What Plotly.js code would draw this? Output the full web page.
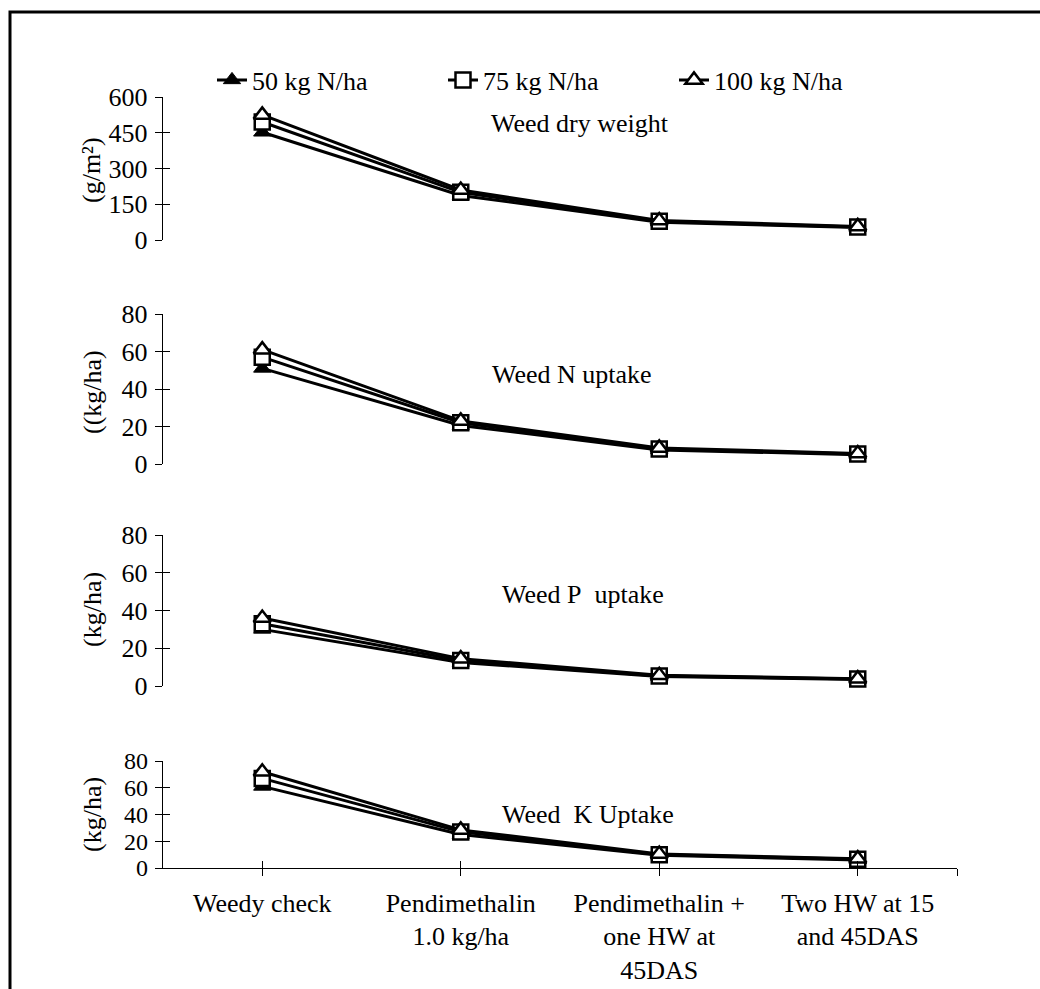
<!DOCTYPE html>
<html>
<head>
<meta charset="utf-8">
<script src="https://cdn.plot.ly/plotly-3.0.1.min.js"></script>
<style>
  html, body { margin: 0; padding: 0; background: #fff; }
  #chart { width: 1040px; height: 989px; }
</style>
</head>
<body>
<div id="chart"></div>
<script>
// ---- data ----
const categories = [
  "Weedy check",
  "Pendimethalin<br>1.0 kg/ha",
  "Pendimethalin +<br>one HW at<br>45DAS",
  "Two HW at 15<br>and 45DAS"
];
const seriesNames = ["50 kg N/ha", "75 kg N/ha", "100 kg N/ha"];

// Weed dry weight (g/m2)
const dryWeight50  = [452, 187, 75, 52];
const dryWeight75  = [495, 200, 79, 55];
const dryWeight100 = [525, 210, 82, 57];

// Weed N uptake (kg/ha)
const nUptake50  = [51, 20.5, 7.5, 5.0];
const nUptake75  = [57, 22.0, 8.0, 5.3];
const nUptake100 = [61, 23.0, 8.6, 5.6];

// Weed P uptake (kg/ha)
const pUptake50  = [30, 12.5, 5.0, 3.5];
const pUptake75  = [33, 13.5, 5.3, 3.7];
const pUptake100 = [36, 14.5, 5.7, 3.9];

// Weed K uptake (kg/ha)
const kUptake50  = [61, 25.0, 9.5, 6.0];
const kUptake75  = [67, 27.0, 10.0, 6.5];
const kUptake100 = [72, 28.5, 10.5, 7.0];

const panelTitles = ["Weed dry weight", "Weed N uptake", "Weed P\u00a0 uptake", "Weed\u00a0 K Uptake"];
const yTitles = ["(g/m\u00b2)", "((kg/ha)", "(kg/ha)", "(kg/ha)"];
const tickLists = [[0,150,300,450,600],[0,20,40,60,80],[0,20,40,60,80],[0,20,40,60,80]];

// ---- styling ----
const FONT = '"Liberation Serif", "Times New Roman", Times, serif';
const FS = 26;
const W = 1040, H = 989;
const px2x = p => p / W;
const px2y = p => 1 - p / H;

const markerStyles = [
  {symbol: "triangle-up", size: 15, color: "#000", line: {color: "#000", width: 1}},
  {symbol: "square", size: 15, color: "#fff", line: {color: "#000", width: 2.5}},
  {symbol: "triangle-up", size: 15, color: "#fff", line: {color: "#000", width: 2.5}}
];

const panels = [
  [dryWeight50, dryWeight75, dryWeight100],
  [nUptake50, nUptake75, nUptake100],
  [pUptake50, pUptake75, pUptake100],
  [kUptake50, kUptake75, kUptake100]
];
// panel pixel extents (top of max tick, zero line)
const panelPx = [[97, 240], [314, 464], [535, 686], [761, 868]];
const titlePx = [[580, 124], [572, 374], [583, 594], [588, 814]];
const yTitlePx = [170, 392, 610, 815];
const yTickFS = [26, 26, 26, 24];

const traces = [];
panels.forEach((series, pi) => {
  series.forEach((vals, si) => {
    traces.push({
      type: "scatter",
      mode: "lines+markers",
      x: categories,
      y: vals,
      xaxis: "x",
      yaxis: pi === 0 ? "y" : "y" + (pi + 1),
      name: seriesNames[si],
      legendgroup: seriesNames[si],
      showlegend: pi === 0,
      line: {color: "#000", width: 3},
      marker: markerStyles[si],
      cliponaxis: false,
      hoverinfo: "skip"
    });
  });
});

const layout = {
  width: W, height: H,
  margin: {l: 0, r: 0, t: 0, b: 0},
  paper_bgcolor: "#fff", plot_bgcolor: "rgba(0,0,0,0)",
  font: {family: FONT, size: FS, color: "#000"},
  showlegend: true,
  legend: {
    orientation: "h",
    x: px2x(212), xanchor: "left",
    y: px2y(80), yanchor: "middle",
    font: {family: FONT, size: FS, color: "#000"},
    entrywidth: 186, entrywidthmode: "pixels",
    bgcolor: "rgba(0,0,0,0)",
    traceorder: "normal"
  },
  xaxis: {
    type: "category",
    domain: [px2x(163), px2x(957)],
    range: [-0.5, 3.5],
    anchor: "y4",
    showline: true, linecolor: "#000", linewidth: 1.3,
    ticks: "outside", ticklen: 7, tickwidth: 1, tickcolor: "#000",
    tickmode: "array",
    tickvals: [0, 1, 2, 3, 3.5],
    ticktext: categories.concat([""]),
    ticklabelstandoff: 4,
    tickfont: {family: FONT, size: FS, color: "#000"},
    showgrid: false, zeroline: false, fixedrange: true
  },
  xaxis2: {
    type: "category", overlaying: "x", anchor: "y4",
    domain: [px2x(163), px2x(957)],
    range: [-0.5, 3.5],
    showline: false, ticks: "inside", ticklen: 7, tickwidth: 1, tickcolor: "#000",
    tickmode: "array", tickvals: [0, 1, 2, 3, 3.5], showticklabels: false,
    showgrid: false, zeroline: false, fixedrange: true
  },
  annotations: [],
  shapes: [{
    type: "rect", xref: "paper", yref: "paper",
    x0: px2x(10), x1: 1.05, y0: -0.05, y1: px2y(12),
    line: {color: "#000", width: 3}, fillcolor: "rgba(0,0,0,0)", layer: "below"
  }]
};

panelPx.forEach((pp, i) => {
  const key = i === 0 ? "yaxis" : "yaxis" + (i + 1);
  const ticks = tickLists[i];
  const dom = [px2y(pp[1]), px2y(pp[0])];
  layout[key] = {
    domain: dom,
    range: [ticks[0], ticks[ticks.length - 1]],
    anchor: "x",
    showline: true, linecolor: "#000", linewidth: 1.3,
    ticks: "outside", ticklen: 7, tickwidth: 1, tickcolor: "#000",
    tickmode: "array", tickvals: ticks,
    ticklabelstandoff: 2,
    tickfont: {family: FONT, size: yTickFS[i], color: "#000"},
    showgrid: false, zeroline: false, fixedrange: true
  };
  // overlay axis for the inner half of crossing ticks
  layout["yaxis" + (i + 5)] = {
    domain: dom,
    overlaying: i === 0 ? "y" : "y" + (i + 1),
    range: [ticks[0], ticks[ticks.length - 1]],
    anchor: "x",
    showline: false,
    ticks: "inside", ticklen: 7, tickwidth: 1, tickcolor: "#000",
    tickmode: "array", tickvals: ticks, showticklabels: false,
    showgrid: false, zeroline: false, fixedrange: true
  };
  // panel title
  layout.annotations.push({
    text: panelTitles[i], xref: "paper", yref: "paper",
    x: px2x(titlePx[i][0]), y: px2y(titlePx[i][1]),
    xanchor: "center", yanchor: "middle", showarrow: false,
    font: {family: FONT, size: FS, color: "#000"}
  });
  // y-axis title (unit)
  layout.annotations.push({
    text: yTitles[i], xref: "paper", yref: "paper",
    x: px2x(92), y: px2y(yTitlePx[i]),
    xanchor: "center", yanchor: "middle", textangle: -90, showarrow: false,
    font: {family: FONT, size: FS, color: "#000"}
  });
});

// empty traces to register overlay subplots
traces.unshift({type: "scatter", x: [], y: [], xaxis: "x2", yaxis: "y4", showlegend: false, hoverinfo: "skip"});
for (let i = 5; i <= 8; i++) {
  traces.unshift({type: "scatter", x: [], y: [], xaxis: "x", yaxis: "y" + i, showlegend: false, hoverinfo: "skip"});
}

Plotly.newPlot("chart", traces, layout, {displayModeBar: false, staticPlot: true});
</script>
</body>
</html>
